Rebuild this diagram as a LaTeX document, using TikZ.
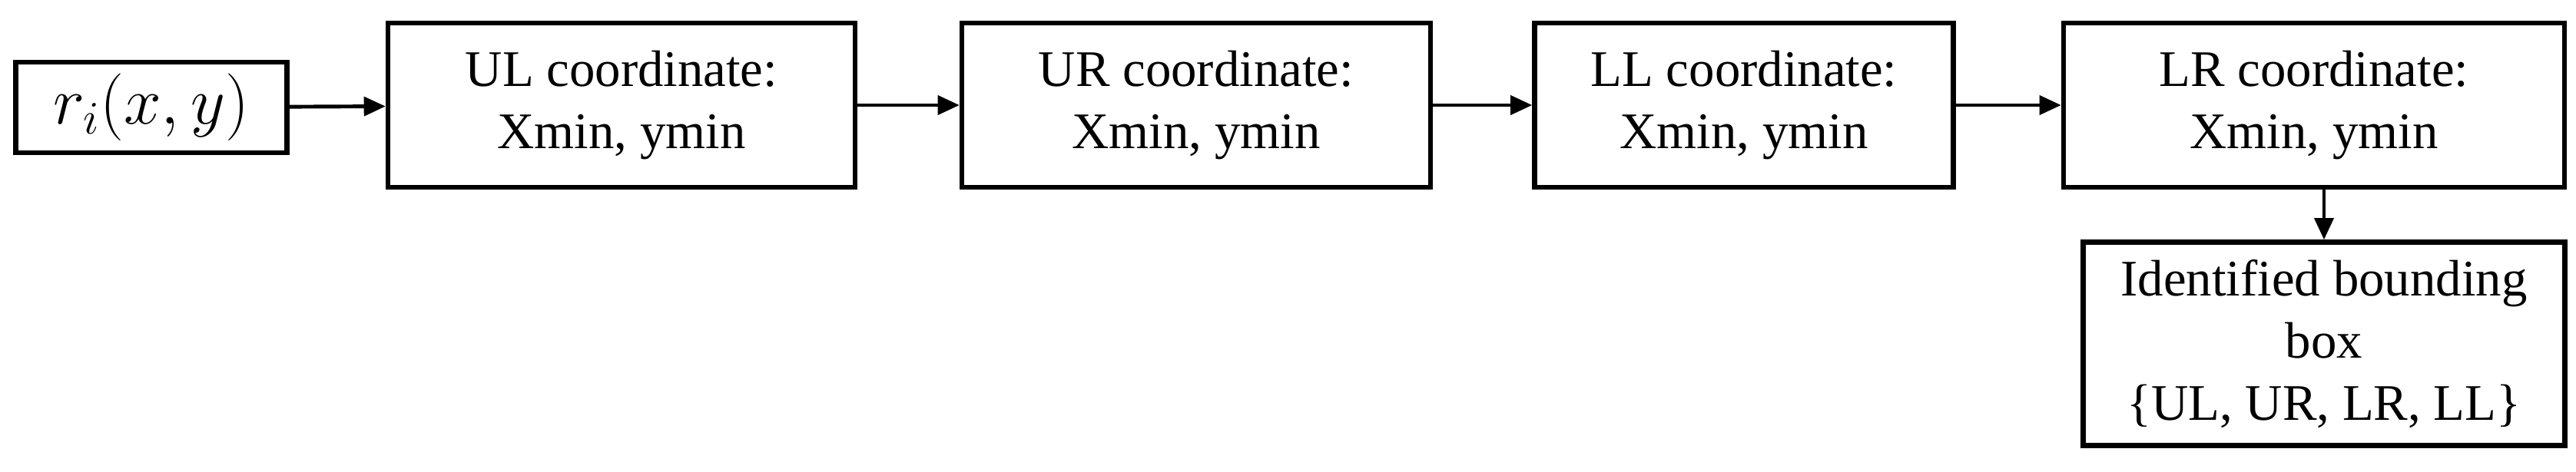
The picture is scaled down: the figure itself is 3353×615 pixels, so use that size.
\documentclass[tikz,border=0pt]{standalone}
\usepackage{fontspec}
\setmainfont{Liberation Serif}
\usetikzlibrary{arrows.meta}
\begin{document}
\begin{tikzpicture}[x=0.01cm,y=-0.01cm,
  bx/.style={draw,line width=1.8pt,inner sep=0pt,font=\fontsize{19}{23}\selectfont,align=center},
  arr/.style={line width=1.4pt,-{Triangle[length=8pt,width=7pt]}}]
\useasboundingbox (0,0) rectangle (3353,615);
\node[bx,minimum width=353*0.01cm,minimum height=118*0.01cm,font=\fontsize{23}{26}\selectfont] (r) at (197,140) {$r_i(x,y)$};
\node[bx,minimum width=608*0.01cm,minimum height=214*0.01cm] (ul) at (809,137) {UL coordinate:\\Xmin, ymin};
\node[bx,minimum width=610*0.01cm,minimum height=214*0.01cm] (ur) at (1557,137) {UR coordinate:\\Xmin, ymin};
\node[bx,minimum width=545*0.01cm,minimum height=214*0.01cm] (ll) at (2270,137) {LL coordinate:\\Xmin, ymin};
\node[bx,minimum width=652*0.01cm,minimum height=214*0.01cm] (lr) at (3012,137) {LR coordinate:\\Xmin, ymin};
\node[bx,minimum width=627*0.01cm,minimum height=265*0.01cm] (id) at (3025,448) {Identified bounding\\box\\\{UL, UR, LR, LL\}};
\draw[arr] (r) -- (ul);
\draw[arr] (ul) -- (ur);
\draw[arr] (ur) -- (ll);
\draw[arr] (ll) -- (lr);
\draw[arr] (lr.south -| id.north) -- (id.north);
\end{tikzpicture}
\end{document}
